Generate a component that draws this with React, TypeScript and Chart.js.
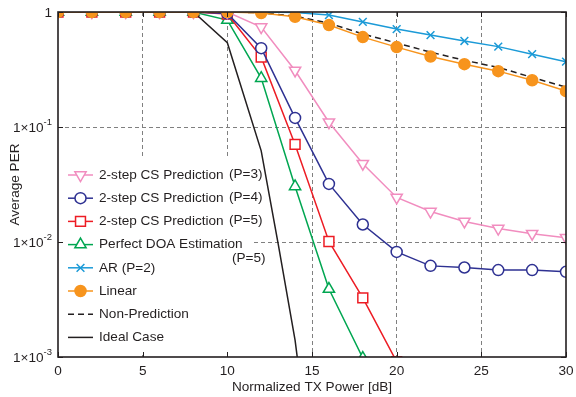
import React, { useEffect, useRef } from 'react';
import { Chart, registerables } from 'chart.js';
import { drawPoint } from 'chart.js/helpers';

Chart.register(...registerables);

// ---------------- data ----------------
const powerDb = [0, 2, 4, 6, 8, 10, 12, 14, 16, 18, 20, 22, 24, 26, 28, 30];
const csP3 = [1, 1, 1, 1, 1, 1, 0.74, 0.31, 0.11, 0.048, 0.0244, 0.0184, 0.0151, 0.0131, 0.0118, 0.0109];
const csP4 = [1, 1, 1, 1, 1, 0.97, 0.485, 0.12, 0.032, 0.0142, 0.0082, 0.0062, 0.006, 0.0057, 0.0057, 0.0055];
const csP5 = [1, 1, 1, 1, 1, 0.96, 0.405, 0.0706, 0.0101, 0.00327, 0.00091];
const perfectDoa = [1, 1, 1, 1, 1, 0.85, 0.266, 0.0304, 0.0039, 0.00098];
const arP2 = [1, 1, 1, 1, 1, 1, 1, 0.99, 0.94, 0.82, 0.71, 0.63, 0.56, 0.5, 0.43, 0.37];
const linear = [1, 1, 1, 1, 1, 1, 0.98, 0.91, 0.77, 0.605, 0.495, 0.41, 0.352, 0.306, 0.255, 0.205];
const nonPrediction = [1, 1, 1, 1, 1, 1, 0.985, 0.92, 0.8, 0.645, 0.537, 0.448, 0.38, 0.33, 0.27, 0.222];
const idealX = [0, 2, 4, 6, 8, 10, 12, 13, 14, 15];
const idealCase = [1, 1, 1, 1, 1, 0.54, 0.062, 0.0097, 0.0014, 0.0001];

const xTicks = [0, 5, 10, 15, 20, 25, 30];
const xTickLabels = ['0', '5', '10', '15', '20', '25', '30'];
const yTickValues = [1, 0.1, 0.01, 0.001];
const yTickBase = ['1', '1\u00d710', '1\u00d710', '1\u00d710'];
const yTickExp = ['', '-1', '-2', '-3'];

const legendLabels = [
  '2-step CS Prediction',
  '2-step CS Prediction',
  '2-step CS Prediction',
  'Perfect DOA Estimation',
  'AR (P=2)',
  'Linear',
  'Non-Prediction',
  'Ideal Case',
];
const legendSuffix = ['(P=3)', '(P=4)', '(P=5)', '', '', '', '', ''];
const extraNote = '(P=5)';
const xTitle = 'Normalized TX Power [dB]';
const yTitle = 'Average PER';

const FONT = '"Liberation Sans", Arial, Helvetica, sans-serif';
const FS = 13.6;

const pts = (xs: number[], ys: number[]) => ys.map((y, i) => ({ x: xs[i], y }));

const App = () => {
  const ref = useRef<HTMLCanvasElement | null>(null);

  useEffect(() => {
    const canvas = ref.current;
    if (!canvas) return;

    const pink = '#f18dbf';
    const navy = '#2e3192';
    const red = '#ed1c24';
    const green = '#00a651';
    const cyan = '#1b9ad7';
    const orange = '#f7941d';
    const black = '#231f20';

    const datasets: any[] = [
      { label: 'p3', data: pts(powerDb, csP3), borderColor: pink, pointStyle: 'triangle', rotation: 180, pointRadius: 6.5, pointBackgroundColor: '#fff', order: 3 },
      { label: 'p4', data: pts(powerDb, csP4), borderColor: navy, pointStyle: 'circle', pointRadius: 5.5, pointBackgroundColor: '#fff', order: 4 },
      { label: 'p5', data: pts(powerDb, csP5), borderColor: red, pointStyle: 'rect', pointRadius: 7, pointBackgroundColor: '#fff', order: 5 },
      { label: 'doa', data: pts(powerDb, perfectDoa), borderColor: green, pointStyle: 'triangle', pointRadius: 6.5, pointBackgroundColor: '#fff', order: 6 },
      { label: 'ar', data: pts(powerDb, arP2), borderColor: cyan, pointStyle: 'crossRot', pointRadius: 5.5, pointBackgroundColor: cyan, order: 7 },
      { label: 'lin', data: pts(powerDb, linear), borderColor: orange, pointStyle: 'circle', pointRadius: 5.5, pointBackgroundColor: orange, order: 0 },
      { label: 'np', data: pts(powerDb, nonPrediction), borderColor: black, borderDash: [6, 4], pointRadius: 0, order: 2 },
      { label: 'ideal', data: pts(idealX, idealCase), borderColor: black, pointRadius: 0, order: 1 },
    ];
    datasets.forEach((d) => {
      d.borderWidth = 1.5;
      d.pointBorderColor = d.borderColor;
      d.pointBorderWidth = 1.5;
      d.tension = 0;
      d.fill = false;
    });

    const custom = {
      id: 'custom',
      beforeDatasetsDraw(chart: any) {
        const { ctx, chartArea: a } = chart;
        ctx.save();
        ctx.fillStyle = '#ffffff';
        ctx.fillRect(a.left + 1, 157, 250 - a.left, 352 - 157);
        ctx.restore();
      },
      afterDraw(chart: any) {
        const { ctx, chartArea: a, scales } = chart;
        const xs = scales.x;
        const ys = scales.y;
        ctx.save();
        // inward ticks
        ctx.strokeStyle = black;
        ctx.lineWidth = 1;
        ctx.beginPath();
        xTicks.forEach((v) => {
          const px = Math.round(xs.getPixelForValue(v)) + 0.5;
          ctx.moveTo(px, a.bottom);
          ctx.lineTo(px, a.bottom - 5);
          ctx.moveTo(px, a.top);
          ctx.lineTo(px, a.top + 5);
        });
        yTickValues.forEach((v) => {
          const py = Math.round(ys.getPixelForValue(v)) + 0.5;
          ctx.moveTo(a.left, py);
          ctx.lineTo(a.left + 5, py);
          ctx.moveTo(a.right, py);
          ctx.lineTo(a.right - 5, py);
        });
        ctx.stroke();
        // frame
        ctx.lineWidth = 1.6;
        ctx.strokeRect(a.left, a.top, a.right - a.left, a.bottom - a.top);

        // x tick labels
        ctx.fillStyle = black;
        ctx.font = `${FS}px ${FONT}`;
        ctx.textAlign = 'center';
        ctx.textBaseline = 'middle';
        xTicks.forEach((v, i) => {
          ctx.fillText(xTickLabels[i], xs.getPixelForValue(v), 371);
        });

        // y tick labels
        yTickValues.forEach((v, i) => {
          const py = ys.getPixelForValue(v);
          const right = a.left - 6;
          ctx.font = `9.5px ${FONT}`;
          const ew = yTickExp[i] ? ctx.measureText(yTickExp[i]).width : 0;
          ctx.textAlign = 'right';
          if (yTickExp[i]) {
            ctx.fillText(yTickExp[i], right, py - 5);
          }
          ctx.font = `${FS}px ${FONT}`;
          ctx.fillText(yTickBase[i], right - ew, py + 1);
        });

        // axis titles
        ctx.font = `${FS}px ${FONT}`;
        ctx.textAlign = 'center';
        ctx.fillText(xTitle, (a.left + a.right) / 2, 387);
        ctx.save();
        ctx.translate(15, (a.top + a.bottom) / 2);
        ctx.rotate(-Math.PI / 2);
        ctx.fillText(yTitle, 0, 0);
        ctx.restore();

        // legend
        const rowY0 = 175;
        const rowDy = 23.2;
        legendLabels.forEach((lab, i) => {
          const ds = datasets[i];
          const y = rowY0 + i * rowDy;
          ctx.strokeStyle = ds.borderColor;
          ctx.lineWidth = 1.5;
          ctx.setLineDash(ds.borderDash || []);
          ctx.beginPath();
          ctx.moveTo(68, y);
          ctx.lineTo(93, y);
          ctx.stroke();
          ctx.setLineDash([]);
          if (ds.pointRadius > 0) {
            ctx.fillStyle = ds.pointBackgroundColor;
            ctx.strokeStyle = ds.borderColor;
            drawPoint(ctx, { pointStyle: ds.pointStyle, rotation: ds.rotation || 0, radius: ds.pointRadius, borderWidth: 1.5 } as any, 80.5, y);
          }
          ctx.fillStyle = black;
          ctx.font = `${FS}px ${FONT}`;
          ctx.textAlign = 'left';
          ctx.textBaseline = 'middle';
          ctx.fillText(lab, 99, y);
          if (legendSuffix[i]) ctx.fillText(legendSuffix[i], 229, y - 1);
        });
        ctx.fillText(extraNote, 232, 258);
        ctx.restore();
      },
    };

    const chart = new Chart(canvas, {
      type: 'line',
      data: { datasets },
      options: {
        animation: false,
        responsive: false,
        maintainAspectRatio: false,
        layout: { padding: { top: 12, right: 10, left: 0, bottom: 0 } },
        plugins: { legend: { display: false }, tooltip: { enabled: false } },
        scales: {
          x: {
            type: 'linear',
            min: 0,
            max: 30,
            afterBuildTicks: (s: any) => {
              s.ticks = xTicks.map((v) => ({ value: v }));
            },
            afterFit: (s: any) => {
              s.height = 40;
            },
            ticks: { display: false },
            grid: {
              drawTicks: false,
              lineWidth: 1,
              color: (c: any) =>
                c.tick && (c.tick.value === 0 || c.tick.value === 30) ? 'rgba(0,0,0,0)' : '#808080',
            },
            border: { display: false, dash: [4, 3] },
          },
          y: {
            type: 'logarithmic',
            min: 0.001,
            max: 1,
            afterBuildTicks: (s: any) => {
              s.ticks = yTickValues.map((v) => ({ value: v }));
            },
            afterFit: (s: any) => {
              s.width = 58;
            },
            ticks: { display: false },
            grid: {
              drawTicks: false,
              lineWidth: 1,
              color: (c: any) =>
                c.tick && (c.tick.value === 1 || c.tick.value === 0.001) ? 'rgba(0,0,0,0)' : '#808080',
            },
            border: { display: false, dash: [4, 3] },
          },
        },
      },
      plugins: [custom],
    } as any);

    return () => chart.destroy();
  }, []);

  return (
    <div style={{ position: 'absolute', left: 0, top: 0, width: 576, height: 397, background: '#fff' }}>
      <canvas ref={ref} width={576} height={397} style={{ display: 'block', width: 576, height: 397 }} />
    </div>
  );
};

export default App;
